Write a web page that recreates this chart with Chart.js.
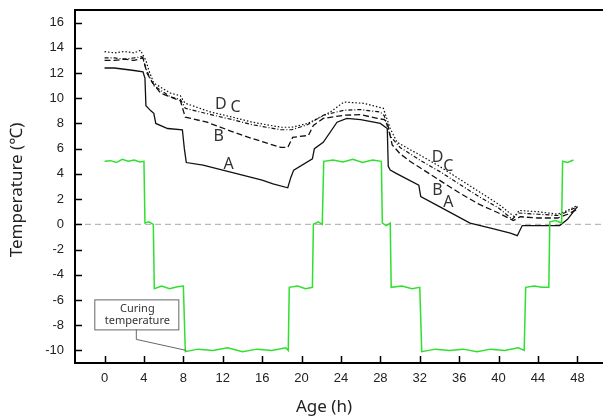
<!DOCTYPE html>
<html>
<head>
<meta charset="utf-8">
<script src="https://cdn.jsdelivr.net/npm/chart.js@4.4.1/dist/chart.umd.min.js"></script>
<style>body{margin:0;background:#fff}</style>
</head>
<body>
<canvas id="chart" width="603" height="420"></canvas>
<script>
// tick labels
var xTicks = [0, 4, 8, 12, 16, 20, 24, 28, 32, 36, 40, 44, 48];
var yTicks = [-10, -8, -6, -4, -2, 0, 2, 4, 6, 8, 10, 12, 14, 16];

// curing temperature (green)
var curingH = [0, 0.6, 1.2, 1.8, 2.4, 3.0, 3.6, 4.0, 4.1, 4.5, 4.95, 5.05, 5.8, 6.6, 7.4, 8.0,
  8.2, 9.5, 11, 12.5, 14, 15.5, 17, 18.4, 18.65, 18.75, 19.6, 20.4, 21.1, 21.2, 21.7, 22.1,
  22.25, 23.2, 24.2, 25.2, 26.2, 27.2, 28.1, 28.2, 28.6, 29.0, 29.1, 30.2, 31.2, 32.0,
  32.2, 33.6, 35, 36.4, 37.8, 39.2, 40.6, 42, 42.6, 42.75, 43.6, 44.4, 45.1, 45.2, 45.8, 46.4,
  46.5, 47.0, 47.6];
var curingT = [5.0, 5.05, 4.9, 5.15, 5.0, 5.1, 4.95, 5.0, 0.1, 0.2, 0.0, -5.1, -4.9, -5.1, -4.95, -4.9,
  -10.1, -9.9, -10.0, -9.8, -10.1, -9.9, -10.0, -9.8, -10.0, -5.0, -4.9, -5.1, -5.0, 0.0, 0.2, 0.0,
  5.0, 5.1, 4.95, 5.15, 4.9, 5.1, 5.0, 0.1, -0.1, 0.1, -5.0, -4.9, -5.1, -5.0,
  -10.1, -9.9, -10.0, -9.9, -10.1, -9.9, -10.0, -9.8, -10.0, -5.0, -4.9, -5.0, -5.0, 0.2, 0.3, 0.1,
  5.0, 4.9, 5.1];

// A (solid)
var aH = [0, 1, 2, 3, 3.9, 4.1, 4.2, 4.7, 5.0, 5.2, 6.4, 7.9, 8.1, 8.3, 10, 12, 14, 16, 17.1, 18.6,
  18.9, 19.2, 21.1, 21.3, 22.2, 23.6, 24.6, 26, 28, 28.7, 28.8, 29.0, 29.7, 31.9, 32.1, 34, 37.1,
  39.2, 41.2, 41.9, 42.4, 44, 46.2, 47, 48];
var aT = [12.4, 12.4, 12.3, 12.2, 12.1, 11.6, 9.4, 9.0, 8.8, 8.0, 7.6, 7.5, 6.0, 4.9, 4.7, 4.3, 3.9, 3.5, 3.2, 2.9,
  3.7, 4.3, 5.2, 6.0, 6.5, 8.1, 8.4, 8.3, 8.0, 7.6, 4.6, 4.3, 4.0, 3.1, 2.2, 1.4, 0.1,
  -0.3, -0.7, -0.9, -0.1, -0.1, -0.1, 0.4, 1.4];

// B (dashed)
var bH = [0, 1, 2, 3, 3.9, 4.3, 4.9, 5.7, 7.7, 8.0, 8.2, 10.4, 12.8, 15, 17.9, 18.6, 19.1, 20.7, 21.2, 22.2,
  24.3, 26, 27.7, 28.4, 28.7, 29.2, 30, 31, 33.8, 36, 38, 40, 41.5, 42.2, 44, 46, 47, 48];
var bT = [13.0, 13.0, 13.1, 13.0, 13.2, 12.0, 11.2, 10.4, 9.8, 9.0, 8.5, 8.1, 7.4, 6.8, 6.1, 6.1, 6.9, 7.05, 7.85, 8.4,
  8.65, 8.7, 8.4, 8.3, 8.1, 6.3, 5.6, 5.0, 3.6, 2.5, 1.6, 0.9, 0.3, 0.6, 0.5, 0.5, 0.8, 1.2];

// C (dash-dot)
var cH = [0, 1, 2, 3, 3.8, 4.2, 4.5, 5.0, 6.7, 7.7, 8.0, 8.2, 10.8, 13, 15, 17.9, 19, 20.6, 22.2, 24.3,
  26, 28, 28.4, 29.0, 30, 32, 34, 36, 38, 40, 41.4, 42.0, 44, 46, 47, 48];
var cT = [13.2, 13.2, 13.1, 13.2, 13.3, 12.4, 11.8, 11.0, 10.1, 9.9, 9.5, 9.2, 8.7, 8.3, 7.9, 7.5, 7.5, 7.9, 8.65, 9.05,
  9.1, 8.9, 8.6, 7.0, 6.1, 5.1, 4.2, 3.2, 2.2, 1.3, 0.4, 0.9, 0.8, 0.7, 1.0, 1.4];

// D (dotted)
var dH = [0, 1, 2, 3, 3.65, 4.2, 4.5, 5.0, 6.7, 7.7, 8.0, 8.2, 10.8, 13, 15, 17.9, 19, 20.6, 21.9, 22.9,
  24.3, 26.3, 28.3, 29.0, 29.7, 32, 34, 36, 38, 40, 41.6, 42.1, 44, 46, 47, 48];
var dT = [13.7, 13.6, 13.7, 13.6, 13.8, 13.0, 12.2, 11.2, 10.4, 10.2, 9.8, 9.6, 8.9, 8.5, 8.1, 7.7, 7.7, 8.0, 8.5, 8.9,
  9.7, 9.6, 9.2, 7.6, 6.5, 5.5, 4.6, 3.6, 2.6, 1.6, 0.6, 1.1, 1.0, 0.8, 1.1, 1.5];

// series letters placed on the plot
var labelText = ['D', 'C', 'B', 'A', 'D', 'C', 'B', 'A'];
var labelH = [11.8, 13.3, 11.6, 12.6, 33.8, 34.9, 33.8, 34.9];
var labelT = [9.5, 9.25, 7.0, 4.75, 5.3, 4.6, 2.7, 1.75];

function pts(h, t) {
  return h.map(function (v, i) { return { x: v, y: t[i] }; });
}

var decor = {
  id: 'decor',
  beforeDatasetsDraw: function (chart) {
    var ctx = chart.ctx, a = chart.chartArea, y0 = chart.scales.y.getPixelForValue(0);
    ctx.save();
    ctx.strokeStyle = '#aaaaaa';
    ctx.lineWidth = 1;
    ctx.setLineDash([6, 4]);
    ctx.beginPath();
    ctx.moveTo(a.left, y0);
    ctx.lineTo(a.right, y0);
    ctx.stroke();
    ctx.restore();
  },
  afterDraw: function (chart) {
    var ctx = chart.ctx, a = chart.chartArea, xs = chart.scales.x, ys = chart.scales.y;
    ctx.save();
    // frame: left, bottom, top
    ctx.strokeStyle = '#000';
    ctx.lineWidth = 2;
    ctx.beginPath();
    ctx.moveTo(a.right, a.top);
    ctx.lineTo(a.left, a.top);
    ctx.lineTo(a.left, a.bottom);
    ctx.lineTo(a.right, a.bottom);
    ctx.stroke();
    // inside ticks
    ctx.lineWidth = 1.5;
    ctx.beginPath();
    xTicks.forEach(function (v) {
      var px = Math.round(xs.getPixelForValue(v)) + 0.5;
      ctx.moveTo(px, a.bottom);
      ctx.lineTo(px, a.bottom - 7);
    });
    yTicks.forEach(function (v) {
      var py = Math.round(ys.getPixelForValue(v)) + 0.5;
      ctx.moveTo(a.left, py);
      ctx.lineTo(a.left + 7, py);
    });
    ctx.stroke();

    // letters
    ctx.fillStyle = '#333';
    ctx.font = '16px "Noto Sans", sans-serif';
    ctx.textAlign = 'center';
    ctx.textBaseline = 'middle';
    labelText.forEach(function (s, i) {
      ctx.fillText(s, xs.getPixelForValue(labelH[i]), ys.getPixelForValue(labelT[i]));
    });

    // callout for curing temperature
    var tx = xs.getPixelForValue(8.3), ty = ys.getPixelForValue(-10);
    var bx = tx - 92, by = ty - 51, bw = 84, bh = 30;
    ctx.strokeStyle = '#666';
    ctx.lineWidth = 1;
    ctx.beginPath();
    ctx.moveTo(bx + 42, by + bh);
    ctx.lineTo(bx + 42, by + bh + 10);
    ctx.lineTo(tx, ty);
    ctx.stroke();
    ctx.fillStyle = '#fff';
    ctx.fillRect(bx, by, bw, bh);
    ctx.strokeRect(bx + 0.5, by + 0.5, bw, bh);
    ctx.fillStyle = '#333';
    ctx.font = '11px "Noto Sans", sans-serif';
    ctx.fillText('Curing', bx + bw / 2 + 1, by + 9);
    ctx.fillText('temperature', bx + bw / 2 + 1, by + 21);

    // axis titles
    ctx.fillStyle = '#222';
    ctx.font = '17px "Noto Sans", "Noto Sans CJK KR", sans-serif';
    ctx.fillText('Age (h)', 324, 407);
    ctx.translate(17, 190);
    ctx.rotate(-Math.PI / 2);
    ctx.fillText('Temperature (\u2103)', 0, 0);
    ctx.restore();
  }
};

var black = '#111';
new Chart(document.getElementById('chart'), {
  type: 'line',
  data: {
    datasets: [
      { label: 'Curing temperature', data: pts(curingH, curingT), borderColor: '#2fe02f', borderWidth: 1.5 },
      { label: 'A', data: pts(aH, aT), borderColor: black, borderWidth: 1.3 },
      { label: 'B', data: pts(bH, bT), borderColor: black, borderWidth: 1.3, borderDash: [6, 3] },
      { label: 'C', data: pts(cH, cT), borderColor: black, borderWidth: 1.2, borderDash: [4, 2, 1, 2] },
      { label: 'D', data: pts(dH, dT), borderColor: black, borderWidth: 1.2, borderDash: [1.5, 2] }
    ]
  },
  options: {
    responsive: false,
    animation: false,
    layout: { padding: { left: 0, right: 0, top: 10, bottom: 0 } },
    elements: { point: { radius: 0 }, line: { tension: 0, fill: false } },
    plugins: { legend: { display: false }, tooltip: { enabled: false } },
    scales: {
      x: {
        type: 'linear', min: -3, max: 50.6,
        grid: { display: false, drawTicks: false },
        border: { display: false },
        afterBuildTicks: function (s) { s.ticks = xTicks.map(function (v) { return { value: v }; }); },
        afterFit: function (s) { s.height = 57; s.paddingLeft = 0; s.paddingRight = 0; },
        ticks: { padding: 8, color: '#222', font: { family: '"Liberation Sans", Arial', size: 13 } }
      },
      y: {
        min: -11, max: 17,
        grid: { display: false, drawTicks: false },
        border: { display: false },
        afterBuildTicks: function (s) { s.ticks = yTicks.map(function (v) { return { value: v }; }); },
        afterFit: function (s) { s.width = 75; s.paddingTop = 0; s.paddingBottom = 0; },
        ticks: { padding: 11, color: '#222', font: { family: '"Liberation Sans", Arial', size: 13 } }
      }
    }
  },
  plugins: [decor]
});
</script>
</body>
</html>
